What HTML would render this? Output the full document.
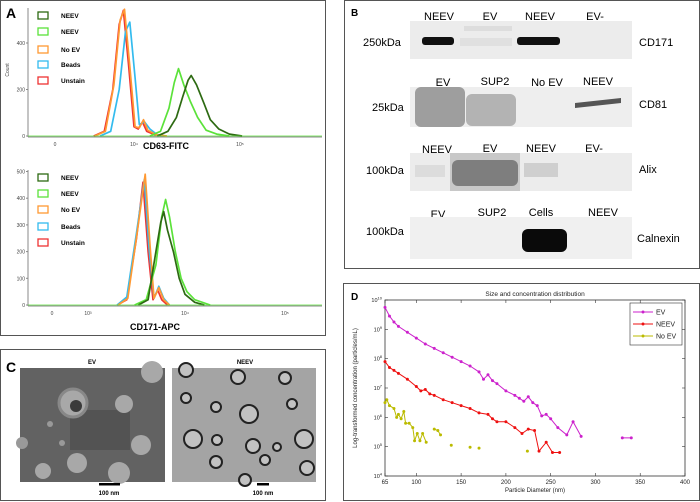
<!DOCTYPE html>
<html><head><meta charset="utf-8"><style>
body{margin:0;background:#fff;}
svg{display:block;font-family:"Liberation Sans",Arial,sans-serif;}
</style></head><body>
<svg id="fig" width="700" height="502" viewBox="0 0 700 502">
<rect x="0" y="0" width="700" height="502" fill="#fff"/>
<!-- Panel A -->
<g>
<rect x="0.5" y="0.5" width="325" height="335" fill="#fff" stroke="#555"/>
<text x="6" y="18" font-size="14" font-weight="bold">A</text>
<text transform="translate(9,70) rotate(-90)" font-size="5" text-anchor="middle" fill="#444">Count</text>
<text x="166" y="149" font-size="9" font-weight="bold" text-anchor="middle">CD63-FITC</text>
<text x="155" y="330" font-size="9" font-weight="bold" text-anchor="middle">CD171-APC</text>
<g id="histTop"></g>
<g id="histBot"></g>
</g>
<!-- Panel C -->
<g>
<rect x="0.5" y="349.5" width="325" height="151" fill="#fff" stroke="#555"/>
<text x="6" y="372" font-size="14" font-weight="bold">C</text>
<text x="92" y="364" font-size="6" font-weight="bold" text-anchor="middle">EV</text>
<text x="245" y="364" font-size="6" font-weight="bold" text-anchor="middle">NEEV</text>
<g>
<rect x="20" y="368" width="145" height="114" fill="#626262"/>
<rect x="70" y="410" width="60" height="40" fill="#4a4a4a" opacity="0.6"/>
<circle cx="73" cy="403" r="14" fill="#a8a8a8" stroke="#888" stroke-width="3"/>
<circle cx="76" cy="406" r="6" fill="#3a3a3a"/>
<circle cx="124" cy="404" r="9" fill="#a8a8a8"/>
<circle cx="152" cy="372" r="11" fill="#a8a8a8"/>
<circle cx="141" cy="445" r="10" fill="#a8a8a8"/>
<circle cx="77" cy="463" r="10" fill="#a8a8a8"/>
<circle cx="43" cy="471" r="8" fill="#a8a8a8"/>
<circle cx="119" cy="473" r="11" fill="#a8a8a8"/>
<circle cx="22" cy="443" r="6" fill="#999"/>
<circle cx="50" cy="424" r="3" fill="#999"/>
<circle cx="62" cy="443" r="3" fill="#999"/>
</g>
<g>
<rect x="172" y="368" width="144" height="114" fill="#a4a4a4"/>
<g fill="#c2c2c2" stroke="#222" stroke-width="2">
<circle cx="186" cy="398" r="5"/><circle cx="216" cy="407" r="5"/>
<circle cx="249" cy="414" r="9"/><circle cx="193" cy="439" r="9"/>
<circle cx="217" cy="440" r="5"/><circle cx="253" cy="446" r="7"/>
<circle cx="277" cy="447" r="4"/><circle cx="304" cy="439" r="9"/>
<circle cx="216" cy="462" r="6"/><circle cx="265" cy="460" r="5"/>
<circle cx="307" cy="468" r="7"/><circle cx="292" cy="404" r="5"/>
<circle cx="238" cy="377" r="7"/><circle cx="285" cy="378" r="6"/>
<circle cx="245" cy="480" r="6"/><circle cx="186" cy="370" r="7"/>
</g>
</g>
<rect x="99" y="483" width="21" height="2.5" fill="#000"/>
<text x="109" y="495" font-size="6" font-weight="bold" text-anchor="middle">100 nm</text>
<rect x="257" y="483" width="12" height="2.5" fill="#000"/>
<text x="263" y="495" font-size="6" font-weight="bold" text-anchor="middle">100 nm</text>
</g>
<!-- Panel B -->
<g font-size="11">
<rect x="344.5" y="0.5" width="355" height="268" fill="#fff" stroke="#555"/>
<text x="351" y="16" font-size="10" font-weight="bold">B</text>
<g text-anchor="middle">
<text x="439" y="20">NEEV</text><text x="490" y="20">EV</text><text x="540" y="20">NEEV</text><text x="595" y="20">EV-</text>
<text x="443" y="86">EV</text><text x="495" y="85">SUP2</text><text x="547" y="86">No EV</text><text x="598" y="85">NEEV</text>
<text x="437" y="153">NEEV</text><text x="490" y="152">EV</text><text x="541" y="152">NEEV</text><text x="594" y="152">EV-</text>
<text x="438" y="218">EV</text><text x="492" y="216">SUP2</text><text x="541" y="216">Cells</text><text x="603" y="216">NEEV</text>
</g>
<g>
<rect x="410" y="21" width="222" height="38" fill="#ececec"/>
<rect x="464" y="26" width="48" height="5" fill="#ddd"/>
<rect x="460" y="38" width="52" height="8" fill="#e0e0e0"/>
<rect x="422" y="37" width="32" height="8" rx="3" fill="#111"/>
<rect x="517" y="37" width="43" height="8" rx="3" fill="#111"/>
</g>
<g>
<rect x="410" y="87" width="222" height="40" fill="#eeeeee"/>
<rect x="415" y="87" width="50" height="40" rx="6" fill="#9e9e9e"/>
<rect x="466" y="94" width="50" height="32" rx="6" fill="#b3b3b3"/>
<path d="M575 103 L621 98 L621 103 L575 108 Z" fill="#555"/>
</g>
<g>
<rect x="410" y="153" width="222" height="38" fill="#ececec"/>
<rect x="450" y="153" width="70" height="38" fill="#c8c8c8"/>
<rect x="452" y="160" width="66" height="26" rx="6" fill="#7e7e7e"/>
<rect x="415" y="165" width="30" height="12" fill="#dcdcdc"/>
<rect x="524" y="163" width="34" height="14" fill="#cfcfcf"/>
</g>
<g>
<rect x="410" y="217" width="222" height="42" fill="#f0f0f0"/>
<rect x="522" y="229" width="45" height="23" rx="6" fill="#0a0a0a"/>
</g>
<g>
<text x="363" y="46">250kDa</text><text x="639" y="46">CD171</text>
<text x="372" y="111">25kDa</text><text x="639" y="108">CD81</text>
<text x="366" y="174">100kDa</text><text x="639" y="173">Alix</text>
<text x="366" y="235">100kDa</text><text x="637" y="242">Calnexin</text>
</g>
</g>
<!-- Panel D -->
<g>
<rect x="343.5" y="283.5" width="356" height="217" fill="#fff" stroke="#555"/>
<text x="351" y="300" font-size="10" font-weight="bold">D</text>
<text x="535" y="296" font-size="6.5" text-anchor="middle" fill="#222">Size and concentration distribution</text>
<text transform="translate(357,388) rotate(-90)" font-size="6" text-anchor="middle" fill="#222">Log-transformed concentration (particles/mL)</text>
<text x="535" y="492" font-size="6" text-anchor="middle" fill="#222">Particle Diameter (nm)</text>
<g id="chartD"></g>
</g>
</svg>
<script>
// ---- Panel A data (log10 intensity, count) ----
const topRed = [[3.62,0],[3.72,20],[3.80,200],[3.86,480],[3.90,540],[3.95,300],[4.00,40],[4.04,30],[4.08,60],[4.12,20],[4.20,5],[4.30,0]];
const topOrange = [[3.63,0],[3.73,20],[3.81,220],[3.87,500],[3.91,545],[3.96,300],[4.01,40],[4.05,35],[4.09,70],[4.13,25],[4.21,5],[4.31,0]];
const topBlue = [[3.68,0],[3.78,20],[3.86,200],[3.92,450],[3.96,490],[4.01,250],[4.05,50],[4.10,60],[4.15,30],[4.22,5],[4.30,0]];
const topLightGreen = [[4.15,0],[4.25,20],[4.33,120],[4.38,230],[4.42,290],[4.47,220],[4.53,150],[4.60,80],[4.68,25],[4.78,8],[4.90,0]];
const topDarkGreen = [[4.22,0],[4.32,20],[4.40,80],[4.46,170],[4.51,240],[4.54,260],[4.59,220],[4.66,140],[4.72,70],[4.80,30],[4.90,8],[5.02,0]];
const botRed = [[3.30,0],[3.40,20],[3.50,250],[3.567,460],[3.62,200],[3.67,20],[3.72,55],[3.76,20],[3.82,0]];
const botOrange = [[3.31,0],[3.41,25],[3.51,280],[3.59,490],[3.64,220],[3.68,25],[3.73,65],[3.78,20],[3.84,0]];
const botBlue = [[3.30,0],[3.40,30],[3.50,270],[3.58,470],[3.63,210],[3.68,25],[3.73,70],[3.78,25],[3.84,0]];
const botLightGreen = [[3.48,0],[3.60,20],[3.70,150],[3.76,330],[3.80,395],[3.84,330],[3.90,200],[3.96,100],[4.02,50],[4.10,20],[4.26,0]];
const botDarkGreen = [[3.52,0],[3.62,20],[3.70,200],[3.75,310],[3.78,350],[3.82,280],[3.88,200],[3.94,100],[4.00,40],[4.10,10],[4.20,0]];
const legendLabels = ["NEEV","NEEV","No EV","Beads","Unstain"];
const topYTicks = [0,200,400];
const botYTicks = [0,100,200,300,400,500];

// ---- Panel D data ----
const evX = [65,70,75,80,90,100,110,120,130,140,150,160,170,175,180,185,190,200,210,215,220,225,230,235,240,245,250,258,268,275,284,null,330,340];
const evY = [9.75,9.45,9.25,9.1,8.9,8.7,8.5,8.35,8.2,8.05,7.9,7.75,7.55,7.3,7.45,7.25,7.15,6.9,6.75,6.65,6.55,6.7,6.5,6.4,6.05,6.1,5.95,5.65,5.4,5.85,5.35,null,5.3,5.3];
const neevX = [65,70,75,80,90,100,105,110,115,120,130,140,150,160,170,180,185,190,200,210,218,225,232,237,245,252,260];
const neevY = [7.9,7.7,7.6,7.5,7.3,7.05,6.9,6.95,6.8,6.75,6.6,6.5,6.4,6.3,6.15,6.1,5.95,5.85,5.85,5.65,5.45,5.6,5.55,4.85,5.15,4.8,4.8];
const noevX = [65,67,70,75,78,80,83,86,88,92,96,98,101,104,107,111,null,120,124,127,null,139,null,160,null,170,null,224];
const noevY = [6.5,6.6,6.4,6.3,6.0,6.1,5.95,6.2,5.8,5.8,5.65,5.2,5.45,5.2,5.45,5.15,null,5.6,5.55,5.4,null,5.05,null,4.98,null,4.95,null,4.85];
const xTicks = [65,100,150,200,250,300,350,400];
const yTicks = [4,5,6,7,8,9,10];
const seriesNames = ["EV","NEEV","No EV"];

const NS = "http://www.w3.org/2000/svg";
function mk(tag, attrs, parent){const e=document.createElementNS(NS,tag);for(const k in attrs)e.setAttribute(k,attrs[k]);parent.appendChild(e);return e;}

function hist(g, cfg){
  const xs = v => cfg.x0 + (v - cfg.v0) * cfg.pxDec;
  const ys = c => cfg.yBase - c * cfg.pxCount;
  const ax = mk("line",{x1:28,x2:322,y1:cfg.yBase+1,y2:cfg.yBase+1,stroke:"#888","stroke-width":1},g);
  
  
  const ay = mk("line",{x1:28,x2:28,y1:cfg.yTop,y2:cfg.yBase+1,stroke:"#888","stroke-width":1},g);
  
  
  cfg.yTicks.forEach(t=>{
    const tl = mk("text",{x:25,y:ys(t)+2,"font-size":5,"text-anchor":"end",fill:"#444"},g);
    tl.textContent=t;
    
    
    mk("line",{x1:26,x2:28,y1:ys(t),y2:ys(t),stroke:"#888"},g);
  });
  cfg.xLabels.forEach(l=>{
    const tl = mk("text",{x:l[0],y:cfg.yBase+10,"font-size":5,"text-anchor":"middle",fill:"#444"},g);
    tl.textContent=l[1];
    
    
  });
  const cols = ["#2d6a12","#5be23a","#ff9933","#33bbee","#ee3333"];
  const order = [[cfg.series[2],cols[4]],[cfg.series[1],cols[3]],[cfg.series[0],cols[2]],[cfg.series[3],cols[1]],[cfg.series[4],cols[0]]];
  order.forEach(s=>{
    const d = s[0].map((p,i)=>(i?"L":"M")+xs(p[0]).toFixed(1)+" "+ys(p[1]).toFixed(1)).join(" ");
    const p = mk("path",{d:d,fill:"none",stroke:s[1],"stroke-width":1.7,"stroke-linejoin":"round"},g);
    
    
  });
  mk("line",{x1:28,x2:322,y1:cfg.yBase,y2:cfg.yBase,stroke:"#5be23a","stroke-width":0.8},g);
  legendLabels.forEach((lab,i)=>{
    const y = cfg.legY[i];
    const r = mk("rect",{x:38,y:y-6,width:10,height:7,fill:"none",stroke:cols[i],"stroke-width":1.3},g);
    
    
    const t = mk("text",{x:61,y:y,"font-size":6.5,"font-weight":"bold"},g);
    t.textContent = lab;
    
    
  });
}
hist(document.getElementById("histTop"),{x0:134,v0:4,pxDec:106,yBase:136,yTop:8,pxCount:46.5/200,yTicks:topYTicks,
  xLabels:[[55,"0"],[134,"10⁴"],[240,"10⁵"]],series:[topOrange,topBlue,topRed,topLightGreen,topDarkGreen],legY:[18,34,52,67,83]});
hist(document.getElementById("histBot"),{x0:185,v0:4,pxDec:97,yBase:305,yTop:170,pxCount:0.267,yTicks:botYTicks,
  xLabels:[[52,"0"],[88,"10³"],[185,"10⁴"],[285,"10⁵"]],series:[botOrange,botBlue,botRed,botLightGreen,botDarkGreen],legY:[180,196,212,229,245]});

(function(){
  const g = document.getElementById("chartD");
  const L=385,R=685,T=300,B=476;
  const xs = v => L + (v-65)*(R-L)/(400-65);
  const ys = v => B - (v-4)*(B-T)/6;
  const frame = mk("rect",{x:L,y:T,width:R-L,height:B-T,fill:"none",stroke:"#333","stroke-width":0.8},g);
  
  
  xTicks.forEach(t=>{
    mk("line",{x1:xs(t),x2:xs(t),y1:B,y2:B-3,stroke:"#333","stroke-width":0.6},g);
    mk("line",{x1:xs(t),x2:xs(t),y1:T,y2:T+3,stroke:"#333","stroke-width":0.6},g);
    const tl = mk("text",{x:xs(t),y:B+8,"font-size":6,"text-anchor":"middle",fill:"#222"},g);
    tl.textContent=t;
    
    
  });
  yTicks.forEach(t=>{
    mk("line",{x1:L,x2:L+3,y1:ys(t),y2:ys(t),stroke:"#333","stroke-width":0.6},g);
    mk("line",{x1:R,x2:R-3,y1:ys(t),y2:ys(t),stroke:"#333","stroke-width":0.6},g);
    const tl = mk("text",{x:L-3,y:ys(t)+2,"font-size":5.5,"text-anchor":"end",fill:"#222"},g);
    tl.innerHTML = "10<tspan dy='-2.5' font-size='4'>"+t+"</tspan>";
    
    
  });
  const cols=["#cc22cc","#ee1111","#bbbb00"];
  const sets=[[evX,evY],[neevX,neevY],[noevX,noevY]];
  sets.forEach((s,si)=>{
    let d="",pen=false;
    s[0].forEach((x,i)=>{
      if(x===null||s[1][i]===null){pen=false;return;}
      d+=(pen?"L":"M")+xs(x).toFixed(1)+" "+ys(s[1][i]).toFixed(1)+" ";pen=true;
      const c=mk("circle",{cx:xs(x),cy:ys(s[1][i]),r:1.5,fill:cols[si]},g);
      
      
    });
    const p=mk("path",{d:d,fill:"none",stroke:cols[si],"stroke-width":1},g);
    
    
  });
  const lg=mk("rect",{x:630,y:303,width:52,height:42,fill:"#fff",stroke:"#333","stroke-width":0.6},g);
  
  
  seriesNames.forEach((n,i)=>{
    const y=312+i*12;
    mk("line",{x1:633,x2:653,y1:y,y2:y,stroke:cols[i],"stroke-width":1},g);
    mk("circle",{cx:643,cy:y,r:1.5,fill:cols[i]},g);
    const t=mk("text",{x:656,y:y+2.5,"font-size":7,fill:"#222"},g);
    t.textContent=n;
    
    
  });
})();
</script>
</body></html>
